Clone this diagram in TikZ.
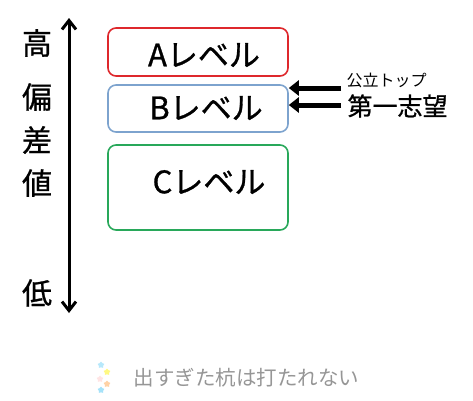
\documentclass[tikz,border=0pt]{standalone}
\usepackage{fontspec}
\setmainfont{Noto Sans CJK JP}
\newfontfamily\heavyjp[FakeBold=0.9]{Noto Sans CJK JP}
\usetikzlibrary{arrows.meta, positioning, shapes.geometric}
\definecolor{levelred}{RGB}{222,40,44}
\definecolor{levelblue}{RGB}{125,163,206}
\definecolor{levelgreen}{RGB}{40,168,90}
\definecolor{mottogray}{RGB}{150,150,150}

\begin{document}
\begin{tikzpicture}[
    x=1pt, y=1pt,
    levelbox/.style ={draw, line width=1.6pt, rounded corners=8pt,
                      minimum width=180pt, inner sep=0pt},
    levtext/.style  ={font=\heavyjp\fontsize{31}{31}\selectfont},
    axischar/.style ={font=\heavyjp\fontsize{30}{30}\selectfont},
    axis/.style     ={{Straight Barb[length=9pt,width=14pt]}-{Straight Barb[length=9pt,width=14pt]},
                      line width=3pt},
    pointer/.style  ={-{Triangle[length=10pt,width=15pt]}, line width=5pt},
    twinkle/.style  ={star, star points=5, inner sep=0pt, minimum size=7pt,
                      opacity=0.7},
  ]
  \useasboundingbox (0,0) rectangle (473,-400);

  % ---- vertical scale ----
  \coordinate (hitop) at (69,-18);
  \coordinate (lobot) at (69,-313);
  \draw[axis] (hitop) -- (lobot);
  \node[axischar] (cKo)  at (37,-43)  {高};
  \node[axischar] (cHen) at (37,-97)  {偏};
  \node[axischar] (cSa)  at (37,-140) {差};
  \node[axischar] (cChi) at (37,-183) {値};
  \node[axischar] (cTei) at (37,-293) {低};

  % ---- level boxes ----
  \node[levelbox, levelred,   minimum height=48pt] (lvA) at (198,-52)  {};
  \node[levelbox, levelblue,  minimum height=47pt] (lvB) at (198,-108.5) {};
  \node[levelbox, levelgreen, minimum height=85pt] (lvC) at (198,-187.5) {};
  \node[levtext] (txA) at (204,-55)  {Aレベル};
  \node[levtext] (txB) at (206,-108) {Bレベル};
  \node[levtext] (txC) at (209,-182) {Cレベル};

  % ---- target school ----
  \node[anchor=west, font=\fontsize{16}{16}\selectfont] (koritsu) at (343,-80)  {公立トップ};
  \node[anchor=west, font=\heavyjp\fontsize{25}{25}\selectfont] (daiichi) at (344,-106) {第一志望};
  \coordinate (p1) at (341,-88);
  \coordinate (p2) at (341,-105);
  \draw[pointer] (p1) -- (p1 -| lvB.east);
  \draw[pointer] (p2) -- (p2 -| lvB.east);

  % ---- motto ----
  \node[anchor=west, text=mottogray, font=\fontsize{20.5}{20.5}\selectfont] (motto) at (130,-378)
    {出すぎた杭は打たれない};
  \node[twinkle, fill=cyan!40]   (s1) at (101,-365) {};
  \node[twinkle, fill=yellow!70] (s2) at (107,-372) {};
  \node[twinkle, fill=pink!60]   (s3) at (100,-379) {};
  \node[twinkle, fill=orange!50] (s4) at (107,-384) {};
  \node[twinkle, fill=cyan!50]   (s5) at (101,-390) {};
\end{tikzpicture}
\end{document}
